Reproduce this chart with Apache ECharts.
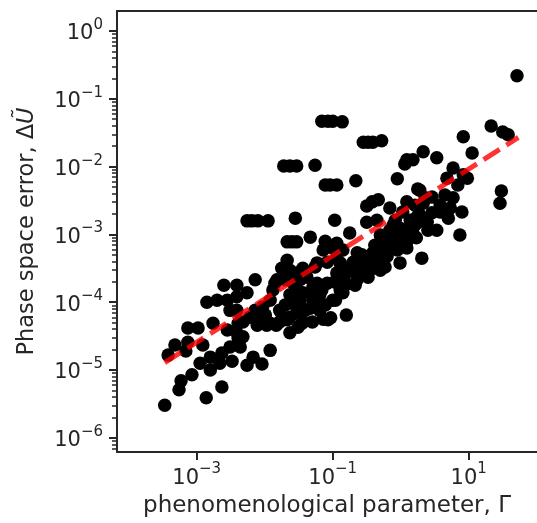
<!DOCTYPE html>
<html>
<head>
<meta charset="utf-8">
<script src="https://cdn.jsdelivr.net/npm/echarts@6/dist/echarts.min.js"></script>
<style>
  html, body { margin: 0; padding: 0; background: #fff; }
  #chart { width: 537px; height: 523px; }
</style>
</head>
<body>
<div id="chart"></div>
<script>
// Values are given as base-10 exponents (log10 Γ and log10 ΔŨ), the way they sit on the log axes.
const logGamma = [
  -1.16, -1.07, -1.00, -0.86, -1.72, -1.63, -1.53, -1.26, -0.55, -0.48, -0.41, -0.28,
  -1.11, -1.04, -0.94, -0.66, -2.26, -2.19, -2.10, -1.95, -1.55, -0.97, -1.67, -1.60,
  -1.53, -1.33, -1.11, -1.14, -1.00, -0.75,
  1.71, 1.33, 1.50, 1.58, 0.92, 1.05, 0.33, 0.53, 0.18, 0.09, 0.06, 0.77,
  0.92, 0.98, 0.68, -0.05, 0.25, 0.28, 0.36, 0.46, 0.33, 0.77, 0.73, 0.70,
  0.90, 0.36, 0.87, 1.48, 1.46, -0.33, -0.42, -0.50, -0.16, 0.09, -0.50, -0.35,
  -0.11, -0.01, 0.14, 0.24, 0.39, -0.30, -0.05, 0.09, 0.18, -0.16, -0.26, -0.41,
  -0.50, -0.64, -0.85, -0.94, -0.75, -0.60, -0.45, -0.26, -0.01, 0.31, -0.85, -0.64,
  -0.48, -0.23, -0.89, -0.80, -1.03, -1.33, -1.44, -1.30,
  -1.67, -1.75, -2.14, -2.41, -2.26, -1.82, -1.88, -1.58, -1.53, -1.92, -2.03, -2.41,
  -2.41, -1.38, -1.26, -1.08, -0.89, -0.94, -1.08, -1.29, -1.44, -1.29, -0.89, -0.85,
  -1.63, -1.78, -1.92, -2.11, -2.32, -1.63, -1.51, -2.41, -2.51,
  -3.47, -3.26, -3.23, -3.07, -2.86, -2.63, -3.42, -3.32, -3.16, -3.13, -2.98, -2.91,
  -2.76, -2.85, -2.70, -2.55, -2.60, -2.55, -2.39, -2.22, -2.11, -1.97, -1.83, -2.39,
  -2.51, -2.63, -2.80, -2.95, -2.80, -2.66, -2.48, -2.26, -2.17, -2.04, -1.92, -2.32,
  -1.53, -1.45, -1.67, -1.14, -1.07, -3.13, -2.36,
  -1.19, -1.11, -1.00, -0.67, -0.53, -0.38, -0.30, -0.19, -0.11, -0.01, 0.06, 0.14,
  0.21, 0.28, -0.16, -0.23, -0.38, -0.57, -0.70, -0.78, -0.97, -1.16, -1.22, -1.48,
  -1.41, -1.53, -1.23, -1.23, -1.33, -1.85, -1.48, -1.63, -1.70, -1.55, -0.94, -0.08,
  0.03, 0.21, 0.58, 0.53, 0.65, 0.84, -0.67, -0.30,
  -1.19, -0.96, -0.79, -0.57, -0.36, -0.20, -0.05, 0.09, 0.23, 0.40, 0.46, 0.58,
  -1.70, -1.63, -1.44, -1.99, -2.14, -1.78
];
const logError = [
  -1.33, -1.33, -1.33, -1.34, -1.99, -1.99, -1.99, -1.98, -1.64, -1.64, -1.64, -1.62,
  -2.27, -2.27, -2.27, -2.21, -2.80, -2.80, -2.80, -2.80, -2.76, -2.79, -3.11, -3.11,
  -3.11, -3.04, -3.10, -3.23, -3.20, -2.98,
  -0.66, -1.40, -1.49, -1.53, -1.56, -1.80, -1.78, -1.87, -1.90, -1.90, -1.96, -2.02,
  -2.12, -2.17, -2.17, -2.18, -2.33, -2.35, -2.46, -2.45, -2.54, -2.46, -2.61, -2.76,
  -2.67, -2.82, -3.01, -2.36, -2.54, -2.49, -2.52, -2.58, -2.61, -2.52, -2.82, -2.79,
  -2.86, -2.91, -2.79, -2.74, -2.82, -3.01, -3.13, -3.11, -2.98, -3.19, -3.30, -3.27,
  -3.38, -3.27, -3.23, -3.13, -3.48, -3.48, -3.53, -3.45, -3.42, -3.35, -3.64, -3.67,
  -3.63, -3.48, -3.82, -4.19, -4.23, -4.09, -4.29, -4.29,
  -3.38, -3.50, -3.67, -3.75, -3.86, -3.67, -3.82, -3.72, -3.82, -3.97, -4.07, -3.92,
  -4.12, -3.63, -3.48, -3.41, -3.42, -3.57, -3.72, -3.78, -3.86, -3.97, -3.78, -3.86,
  -4.22, -4.29, -4.31, -4.29, -4.29, -4.45, -4.37, -4.45, -4.12,
  -5.52, -5.29, -5.16, -5.07, -5.41, -5.25, -4.78, -4.63, -4.72, -4.38, -4.38, -4.63,
  -4.31, -4.00, -3.97, -3.97, -3.75, -4.41, -4.31, -4.22, -4.34, -4.34, -4.34, -4.53,
  -4.66, -4.75, -4.81, -4.90, -5.00, -4.90, -4.87, -4.93, -4.81, -4.91, -4.71, -4.51,
  -4.16, -4.31, -4.26, -4.25, -4.26, -4.59, -4.66,
  -3.89, -4.04, -3.97, -3.53, -3.41, -3.35, -3.23, -3.16, -3.05, -3.08, -2.96, -2.91,
  -2.86, -2.71, -2.94, -3.08, -3.16, -3.30, -3.41, -3.55, -3.70, -3.82, -3.94, -3.97,
  -4.12, -3.57, -3.42, -3.72, -3.86, -3.72, -3.67, -3.89, -4.04, -4.04, -3.35, -2.79,
  -2.67, -2.57, -2.67, -2.94, -2.42, -2.27, -3.75, -3.53,
  -4.12, -3.97, -3.73, -3.60, -3.45, -3.32, -3.23, -3.20, -3.05, -2.94, -2.68, -2.57,
  -3.67, -3.53, -3.50, -4.19, -4.12, -4.12
];

// Power-law fit, end points (log10 Γ, log10 ΔŨ)
const fitLogGamma = [-3.47, 1.73];
const fitLogError = [-4.89, -1.57];

// Decade exponents carrying tick labels
const xTickExps = [-3, -1, 1];
const yTickExps = [-6, -5, -4, -3, -2, -1, 0];

// Axis extents in decades
const xRange = [-4.172, 2.004];
const yRange = [-6.209, 0.295];

const ink = '#262626';
const font = 'DejaVu Sans';

// minor ticks at 2..9 × 10^n inside the y extent
const yMinor = [];
for (let n = -7; n <= 0; n++) {
  for (let k = 2; k <= 9; k++) {
    const v = n + Math.log10(k);
    if (v > yRange[0] && v < yRange[1]) yMinor.push(v);
  }
}

const powLabel = v => {
  const e = Math.round(v);
  const s = (e < 0 ? '\u2212' : '') + Math.abs(e);
  return '{b|10}{s|' + s + '}';
};
const powRich = {
  b: { fontFamily: font, fontSize: 21, color: ink, lineHeight: 27, verticalAlign: 'bottom' },
  s: { fontFamily: font, fontSize: 15, color: ink, lineHeight: 15, verticalAlign: 'top' }
};

const points = logGamma.map((g, i) => [g, logError[i]]);
const fit = fitLogGamma.map((g, i) => [g, fitLogError[i]]);

const chart = echarts.init(document.getElementById('chart'), null, { renderer: 'canvas' });
chart.setOption({
  animation: false,
  backgroundColor: '#fff',
  grid: { left: 117, right: 0, top: 11, bottom: 71 },
  xAxis: [
    {
      type: 'value', position: 'bottom', min: xRange[0], max: xRange[1],
      axisLine: { onZero: false, lineStyle: { color: ink, width: 2 } },
      axisTick: { customValues: xTickExps, length: 8, lineStyle: { color: ink, width: 2 } },
      axisLabel: { customValues: xTickExps, margin: 10, formatter: powLabel, rich: powRich },
      splitLine: { show: false },
      name: 'phenomenological parameter, \u0393',
      nameLocation: 'middle', nameGap: 43,
      nameTextStyle: { fontFamily: font, fontSize: 23, color: ink }
    },
    {
      type: 'value', position: 'top', min: xRange[0], max: xRange[1],
      axisLine: { onZero: false, lineStyle: { color: ink, width: 2 } },
      axisTick: { show: false }, axisLabel: { show: false }, splitLine: { show: false }
    }
  ],
  yAxis: [
    {
      type: 'value', position: 'left', min: yRange[0], max: yRange[1],
      axisLine: { onZero: false, lineStyle: { color: ink, width: 2 } },
      axisTick: { customValues: yTickExps, length: 8, lineStyle: { color: ink, width: 2 } },
      axisLabel: { customValues: yTickExps, margin: 14, formatter: powLabel, rich: powRich },
      splitLine: { show: false },
      name: 'Phase space error, {d|\u0394}{u|\u0168}',
      nameLocation: 'middle', nameGap: 78, nameRotate: 90,
      nameTextStyle: {
        fontFamily: font, fontSize: 22.5, color: ink,
        rich: {
          d: { fontFamily: font, fontSize: 22.5, color: ink },
          u: { fontFamily: font, fontSize: 22.5, color: ink, fontStyle: 'italic' }
        }
      }
    },
    {
      type: 'value', position: 'left', min: yRange[0], max: yRange[1],
      axisLine: { show: false, onZero: false },
      axisTick: { customValues: yMinor, length: 5, lineStyle: { color: ink, width: 1.5 } },
      axisLabel: { show: false }, splitLine: { show: false }
    }
  ],
  series: [
    {
      type: 'scatter', xAxisIndex: 0, yAxisIndex: 0,
      data: points, symbol: 'circle', symbolSize: 13.5,
      itemStyle: { color: '#000', opacity: 1 },
      z: 2
    },
    {
      type: 'line', xAxisIndex: 0, yAxisIndex: 0,
      data: fit, symbol: 'none',
      lineStyle: { color: 'rgba(255,0,0,0.8)', width: 5, type: [19, 8], cap: 'butt' },
      z: 3
    }
  ]
});
</script>
</body>
</html>
